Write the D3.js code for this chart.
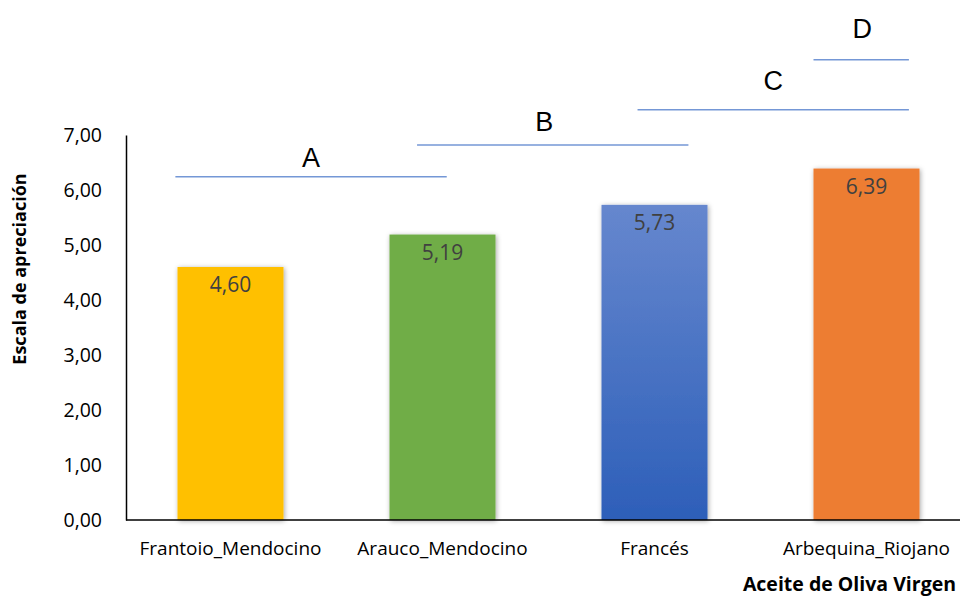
<!DOCTYPE html>
<html><head><meta charset="utf-8">
<script src="https://cdn.jsdelivr.net/npm/d3@7"></script>
<style>body{margin:0;background:#fff}svg{display:block}</style>
</head><body><svg id="c" width="960" height="596"></svg>
<script>
const categories = ["Frantoio_Mendocino","Arauco_Mendocino","Francés","Arbequina_Riojano"];
const values = [4.60, 5.19, 5.73, 6.39];
const labels = ["4,60","5,19","5,73","6,39"];
const yTicks = [0,1,2,3,4,5,6,7];
const groupNames = ["A","B","C","D"];
const groupStart = [0.24, 1.38, 2.42, 3.25];   // in category-index units
const groupEnd   = [1.52, 2.66, 3.70, 3.70];
const groupLevel = [6.24, 6.82, 7.46, 8.37];   // line level, value units
const letterPos  = [0.88, 1.98, 3.06, 3.48];   // letter centre, category-index units
const letterLevel= [6.42, 7.07, 7.82, 8.76];   // letter baseline, value units
const barColors = ["#FFC000","#70AD47","url(#blueGrad)","#ED7D31"];

const svg = d3.select("#c");
const x0 = 124.5, x1 = 972.5;
const x = d3.scaleBand().domain(categories).range([x0, x1]).paddingInner(0.5).paddingOuter(0.25);
const xi = d3.scaleLinear().domain([0, categories.length]).range([x0, x1]);
const y = d3.scaleLinear().domain([0, 7]).range([520, 135]);

const defs = svg.append("defs");
const g = defs.append("linearGradient").attr("id","blueGrad").attr("x1",0).attr("y1",0).attr("x2",0).attr("y2",1);
g.append("stop").attr("offset","0%").attr("stop-color","#6687CE");
g.append("stop").attr("offset","100%").attr("stop-color","#2D5FB9");
const f = defs.append("filter").attr("id","sh").attr("x","-20%").attr("y","-20%").attr("width","140%").attr("height","140%");
f.append("feDropShadow").attr("dx",1).attr("dy",1).attr("stdDeviation",2.5).attr("flood-color","#000").attr("flood-opacity",0.35);

// bars
svg.append("g").selectAll("rect").data(values).join("rect")
  .attr("x",(d,i)=>x(categories[i]))
  .attr("width",x.bandwidth())
  .attr("y",d=>y(d))
  .attr("height",d=>y(0)-y(d))
  .attr("fill",(d,i)=>barColors[i])
  .attr("filter","url(#sh)");

// value labels
svg.append("g").selectAll("text").data(values).join("text")
  .attr("x",(d,i)=>x(categories[i])+x.bandwidth()/2)
  .attr("y",d=>y(d)+25)
  .attr("text-anchor","middle")
  .attr("font-family","Open Sans")
  .attr("font-size",21)
  .attr("fill","#404040")
  .text((d,i)=>labels[i]);

// y axis
const ya = svg.append("g").attr("transform","translate(126,0)")
  .call(d3.axisLeft(y).tickValues(yTicks).tickSize(0).tickPadding(24).tickFormat(d=>d3.format(".2f")(d).replace(".",",")));
ya.select(".domain").attr("stroke","#000").attr("stroke-width",1.5);
ya.selectAll("text").attr("font-family","Open Sans").attr("font-size",19.5).attr("fill","#000");

// x axis
const xa = svg.append("g").attr("transform","translate(0,520)")
  .call(d3.axisBottom(x).tickSize(0).tickPadding(22));
xa.select(".domain").attr("d","M126,0H960").attr("stroke","#000").attr("stroke-width",1.5);
xa.selectAll("text").attr("font-family","Open Sans").attr("font-size",19).attr("fill","#000");

// group brackets
const gg = svg.append("g");
gg.selectAll("line").data(groupNames).join("line")
  .attr("x1",(d,i)=>xi(groupStart[i])).attr("x2",(d,i)=>xi(groupEnd[i]))
  .attr("y1",(d,i)=>y(groupLevel[i])).attr("y2",(d,i)=>y(groupLevel[i]))
  .attr("stroke","#7497D6").attr("stroke-width",1.5);
gg.selectAll("text").data(groupNames).join("text")
  .attr("x",(d,i)=>xi(letterPos[i]))
  .attr("y",(d,i)=>y(letterLevel[i]))
  .attr("text-anchor","middle")
  .attr("font-family","Liberation Sans")
  .attr("font-size",27)
  .attr("fill","#000")
  .text(d=>d);

// axis titles
svg.append("text").attr("transform","translate(26,269) rotate(-90)")
  .attr("text-anchor","middle").attr("font-family","Open Sans").attr("font-weight","bold")
  .attr("font-size",18).attr("fill","#000").text("Escala de apreciación");
svg.append("text").attr("x",956).attr("y",591).attr("text-anchor","end")
  .attr("font-family","Open Sans").attr("font-weight","bold")
  .attr("font-size",19.5).attr("fill","#000").text("Aceite de Oliva Virgen");
</script></body></html>
